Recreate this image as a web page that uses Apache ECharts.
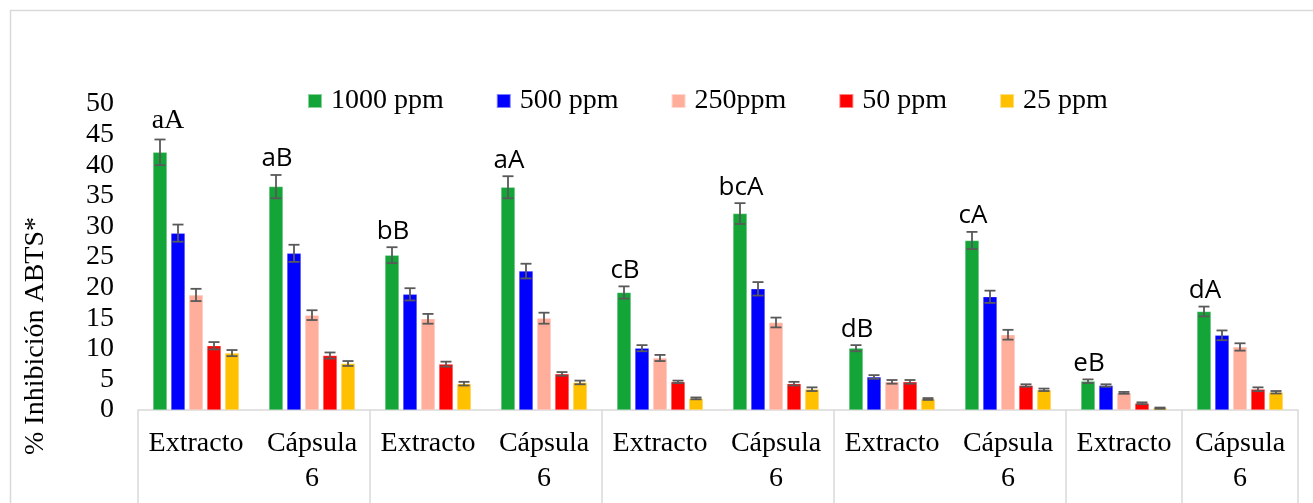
<!DOCTYPE html>
<html>
<head>
<meta charset="utf-8">
<script src="https://cdn.jsdelivr.net/npm/echarts@6/dist/echarts.min.js"></script>
<style>
html,body{margin:0;padding:0;background:#fff;}
#chart{width:1313px;height:503px;}
</style>
</head>
<body>
<div id="chart"></div>
<script>
const categories = ["Extracto","Cápsula 6","Extracto","Cápsula 6","Extracto","Cápsula 6","Extracto","Cápsula 6","Extracto","Cápsula 6"];
const seriesNames = ["1000 ppm","500 ppm","250ppm","50 ppm","25 ppm"];
const v1000 = [42.1, 36.5, 25.3, 36.4, 19.2, 32.1, 10.1, 27.7, 4.7, 16.1];
const e1000 = [2.1, 1.9, 1.3, 1.8, 1.0, 1.7, 0.5, 1.4, 0.3, 0.8];
const v500  = [28.9, 25.6, 18.9, 22.7, 10.1, 19.8, 5.4, 18.5, 4.0, 12.2];
const e500  = [1.4, 1.4, 1.0, 1.2, 0.5, 1.1, 0.3, 1.0, 0.2, 0.8];
const v250  = [18.8, 15.5, 14.9, 15.0, 8.5, 14.3, 4.6, 12.3, 2.8, 10.3];
const e250  = [1.0, 0.8, 0.8, 0.9, 0.5, 0.8, 0.3, 0.8, 0.15, 0.6];
const v50   = [10.5, 8.9, 7.5, 5.9, 4.6, 4.3, 4.6, 4.0, 1.1, 3.4];
const e50   = [0.6, 0.5, 0.4, 0.3, 0.2, 0.3, 0.3, 0.2, 0.15, 0.3];
const v25   = [9.3, 7.6, 4.3, 4.5, 1.9, 3.4, 1.8, 3.3, 0.3, 2.9];
const e25   = [0.5, 0.4, 0.3, 0.3, 0.15, 0.3, 0.15, 0.2, 0.1, 0.2];
const groupLabels = ["aA","aB","bB","aA","cB","bcA","dB","cA","eB","dA"];
const yTicks = [0,5,10,15,20,25,30,35,40,45,50];
const yTitle = "% Inhibición ABTS*";

const values = [v1000, v500, v250, v50, v25];
const errors = [e1000, e500, e250, e50, e25];
const colors = ["#13A538", "#0000FF", "#FFAE9C", "#FF0000", "#FFC000"];
const BAR_W = 14, BAR_STEP = 18;
const serif = "'Liberation Serif', 'Times New Roman', serif";

const chart = echarts.init(document.getElementById('chart'), null, {renderer: 'canvas'});

const series = [];
values.forEach((vals, s) => {
  series.push({
    name: seriesNames[s],
    type: 'bar',
    data: vals,
    barWidth: BAR_W,
    barGap: '28.6%',
    itemStyle: {color: colors[s], borderColor: 'rgba(255,255,255,0.5)', borderWidth: 0.5},
    z: 2
  });
});
values.forEach((vals, s) => {
  series.push({
    type: 'custom',
    name: 'err' + s,
    z: 5,
    silent: true,
    data: vals.map((v, i) => [i, v, errors[s][i]]),
    renderItem: function (params, api) {
      const i = api.value(0), v = api.value(1), e = api.value(2);
      const c = api.coord([i, v]);
      const x = c[0] + (s - 2) * BAR_STEP;
      const yTop = api.coord([i, v + e])[1];
      const yBot = api.coord([i, Math.max(0, v - e)])[1];
      const ls = {stroke: '#595959', lineWidth: 1.8};
      const children = [
        {type: 'line', shape: {x1: x, y1: yTop, x2: x, y2: yBot}, style: ls},
        {type: 'line', shape: {x1: x - 5.5, y1: yTop, x2: x + 5.5, y2: yTop}, style: ls},
        {type: 'line', shape: {x1: x - 5.5, y1: yBot, x2: x + 5.5, y2: yBot}, style: ls}
      ];
      if (s === 0) {
        children.push({
          type: 'text',
          style: {
            text: groupLabels[i],
            x: x + (i === 0 ? 8 : 1),
            y: yTop - (i === 0 ? 5 : 3),
            align: 'center',
            verticalAlign: 'bottom',
            fill: '#000',
            font: i === 0 ? "28px 'Liberation Serif'" : "26px 'Open Sans'"
          }
        });
      }
      return {type: 'group', children: children};
    }
  });
});

const option = {
  animation: false,
  backgroundColor: '#fff',
  grid: {left: 138, right: 15, top: 104, bottom: 93, containLabel: false},
  legend: {
    data: seriesNames,
    left: 302,
    top: 82,
    itemWidth: 14,
    itemHeight: 14,
    itemGap: 52,
    icon: 'rect',
    textStyle: {fontFamily: serif, fontSize: 28, color: '#000', padding: [0, 0, 0, 4]}
  },
  xAxis: {
    type: 'category',
    data: categories,
    boundaryGap: true,
    axisLine: {show: true, lineStyle: {color: '#d9d9d9', width: 1.5}},
    axisTick: {show: true, interval: 1, length: 100, lineStyle: {color: '#d9d9d9', width: 1.5}},
    axisLabel: {
      interval: 0,
      margin: 16,
      fontFamily: serif,
      fontSize: 28,
      lineHeight: 35,
      color: '#000',
      formatter: v => v.replace(' ', '\n')
    },
    splitLine: {show: false}
  },
  yAxis: {
    type: 'value',
    min: yTicks[0],
    max: yTicks[yTicks.length - 1],
    interval: yTicks[1] - yTicks[0],
    axisLine: {show: false},
    axisTick: {show: false},
    splitLine: {show: false},
    axisLabel: {fontFamily: serif, fontSize: 28, color: '#000', margin: 24}
  },
  graphic: [
    {
      type: 'rect',
      shape: {x: 10.5, y: 10.5, width: 1400, height: 600},
      style: {fill: 'none', stroke: '#d9d9d9', lineWidth: 1.5},
      silent: true, z: -1
    },
    {
      type: 'text',
      x: 36, y: 336,
      rotation: Math.PI / 2,
      style: {text: yTitle, font: "28px 'Liberation Serif'", fill: '#000', align: 'center', verticalAlign: 'middle'}
    }
  ],
  series: series
};
chart.setOption(option);
</script>
</body>
</html>
